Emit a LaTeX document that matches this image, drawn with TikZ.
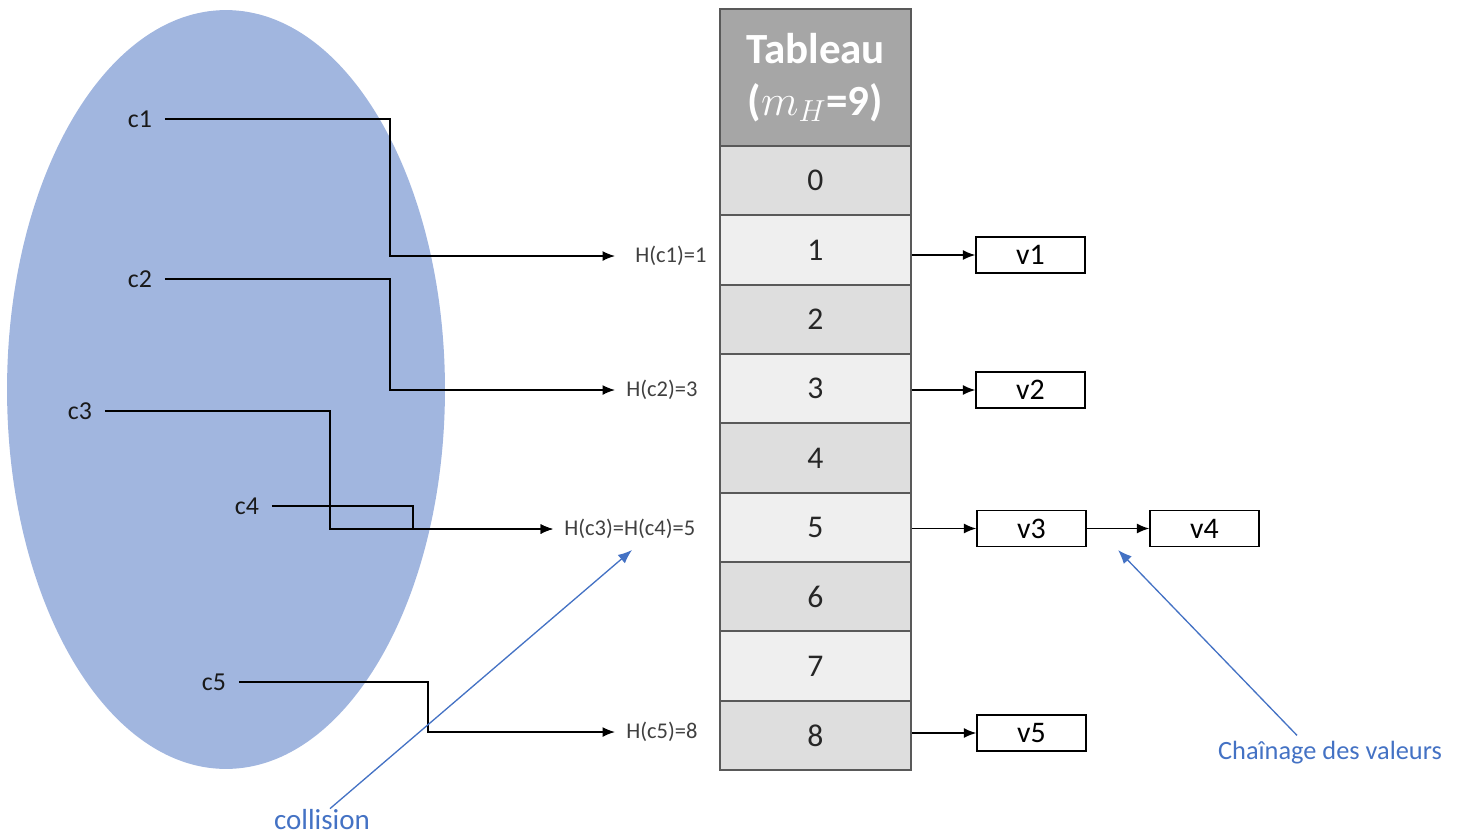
\documentclass[tikz,border=0pt]{standalone}
\usepackage{fontspec}
\setmainfont{Carlito}
\usetikzlibrary{arrows.meta}
\definecolor{setblue}{HTML}{A1B6DF}
\definecolor{headgray}{HTML}{A6A6A6}
\definecolor{rowdark}{HTML}{DEDEDE}
\definecolor{rowlight}{HTML}{EFEFEF}
\definecolor{cellgray}{HTML}{595959}
\definecolor{hashgray}{HTML}{404040}
\definecolor{noteblue}{HTML}{4472C4}
\begin{document}
\begin{tikzpicture}[x=0.02cm, y=-0.02cm,
  key/.style={inner sep=0.25cm, text=black!90, font=\fontsize{14.7}{17}\selectfont},
  hashlbl/.style={anchor=west, inner xsep=0.22cm, text=hashgray, font=\fontsize{12.8}{15}\selectfont},
  cell/.style={draw=cellgray, line width=1.1pt, minimum width=3.82cm, minimum height=1.3867cm, text=black!85, font=\fontsize{18}{21}\selectfont},
  valbox/.style={draw, line width=0.8pt, minimum width=2.18cm, minimum height=0.72cm, inner sep=0pt, font=\fontsize{17}{20}\selectfont},
  link/.style={line width=0.8pt, -{Latex[length=0.25cm, width=0.2cm]}},
  note/.style={text=noteblue, font=\fontsize{15}{18}\selectfont},
  pointer/.style={draw=noteblue, line width=0.75pt, -{Latex[length=0.28cm, width=0.22cm]}}]
  \useasboundingbox (0,0) rectangle (1459,839);
  % ensemble des cles
  \fill[setblue] (226,389.5) ellipse [x radius=4.38cm, y radius=7.59cm];
  \node[key] (c1) at (140,119) {c1};
  \node[key] (c2) at (140,279) {c2};
  \node[key] (c3) at (80,411) {c3};
  \node[key] (c4) at (247,506) {c4};
  \node[key] (c5) at (214,682) {c5};
  % le tableau
  \node[cell, fill=headgray, minimum height=2.74cm, align=center, text=white,
        font=\bfseries\fontsize{24.5}{29.6}\selectfont] (tab) at (815.5,77.5) {Tableau\\($m_H$=9)};
  \foreach \i in {0,...,8} {
    \ifodd\i\relax \def\rowfill{rowlight}\else \def\rowfill{rowdark}\fi
    \node[cell, fill=\rowfill] (cell\i) at (815.5,180.67+69.33*\i) {\i};
  }
  % valeurs de H
  \node[hashlbl] (h1) at (624,256) {H(c1)=1};
  \node[hashlbl] (h3) at (615,390) {H(c2)=3};
  \node[hashlbl] (h5) at (553,529) {H(c3)=H(c4)=5};
  \node[hashlbl] (h8) at (615,732) {H(c5)=8};
  \draw[link] (c1.east) -| (390,256) -- ([xshift=-0.18cm]h1.west);
  \draw[link] (c2.east) -| (390,390) -- (h3.west);
  \draw[link] (c3.east) -| (330,529) -- (h5.west);
  \draw[link] (c4.east) -| (413,529) -- (h5.west);
  \draw[link] (c5.east) -| (428,732) -- (h8.west);
  % valeurs chainees
  \node[valbox] (v1) at (1030.5,255) {v1};
  \node[valbox] (v2) at (1030.5,390) {v2};
  \node[valbox] (v3) at (1031.5,528.5) {v3};
  \node[valbox] (v4) at (1204.5,528.5) {v4};
  \node[valbox] (v5) at (1031.5,733) {v5};
  \draw[link] (cell1.east |- v1) -- (v1);
  \draw[link] (cell3.east |- v2) -- (v2);
  \draw[link] (cell5.east |- v3) -- (v3);
  \draw[link] (v3) -- (v4);
  \draw[link] (cell8.east |- v5) -- (v5);
  % annotations
  \node[note, font=\fontsize{16.5}{19}\selectfont] (coll) at (322,820) {collision};
  \node[note] (chain) at (1330,753) {Chaînage des valeurs};
  \coordinate (colltip) at (632,550);
  \coordinate (chaintip) at (1118,550);
  \draw[pointer] ([xshift=0.16cm,yshift=-0.1cm]coll.north) -- (colltip);
  \draw[pointer] ([xshift=-0.66cm]chain.north) -- (chaintip);
\end{tikzpicture}
\end{document}
